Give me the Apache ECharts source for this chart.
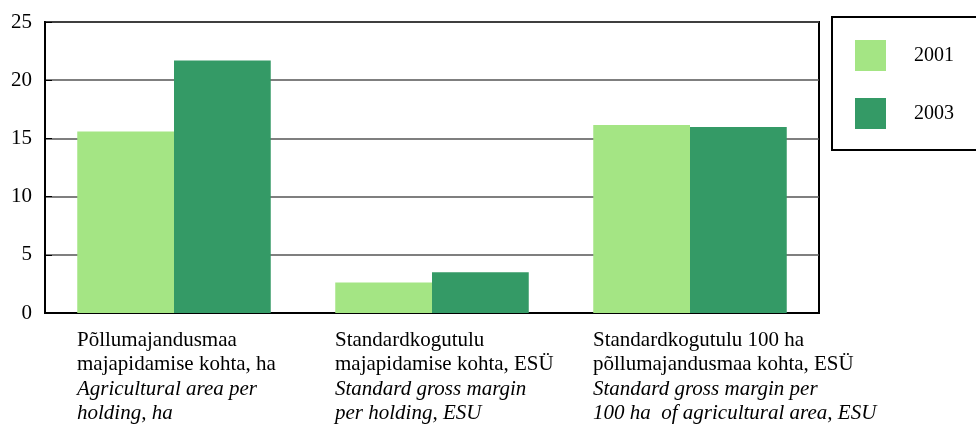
<!DOCTYPE html>
<html>
<head>
<meta charset="utf-8">
<script src="https://cdn.jsdelivr.net/npm/echarts@6/dist/echarts.min.js"></script>
<style>
html, body { margin: 0; padding: 0; background: #fff; }
#chart { width: 976px; height: 426px; }
</style>
</head>
<body>
<div id="chart"></div>
<script>
// categories: estonian line(s) + english line(s)
const categoriesEt = [
    ['Põllumajandusmaa', 'majapidamise kohta, ha'],
    ['Standardkogutulu', 'majapidamise kohta, ESÜ'],
    ['Standardkogutulu 100 ha', 'põllumajandusmaa kohta, ESÜ']
];
const categoriesEn = [
    ['Agricultural area per', 'holding, ha'],
    ['Standard gross margin', 'per holding, ESU'],
    ['Standard gross margin per', '100 ha  of agricultural area, ESU']
];
const years = ['2001', '2003'];
const values2001 = [15.6, 2.63, 16.15];
const values2003 = [21.7, 3.5, 15.98];
const yTicks = [0, 5, 10, 15, 20, 25];

const colors = ['#a4e584', '#349a66'];
const font = '"Liberation Serif", "DejaVu Serif", serif';

const categories = categoriesEt.map((et, i) => et.join('\n') + '\n' + categoriesEn[i].join('\n'));

const myChart = echarts.init(document.getElementById('chart'));
const option = {
    animation: false,
    textStyle: { fontFamily: font, color: '#000' },
    grid: {
        left: 45,
        right: 157,
        top: 22,
        bottom: 113,
        show: true,
        borderColor: '#000',
        borderWidth: 2
    },
    legend: {
        orient: 'vertical',
        left: 832,
        top: 17,
        padding: [23, 80, 21, 23],
        itemGap: 27,
        itemWidth: 31,
        itemHeight: 31,
        icon: 'rect',
        borderColor: '#000',
        borderWidth: 2,
        textStyle: { fontFamily: font, fontSize: 20, color: '#000', padding: [0, 0, 0, 23] },
        data: years
    },
    xAxis: {
        type: 'category',
        data: categories,
        axisLine: { lineStyle: { color: '#000', width: 2 } },
        axisTick: { inside: true, length: 7, lineStyle: { color: '#000', width: 1 } },
        axisLabel: {
            interval: 0,
            margin: 15,
            width: 194,
            overflow: 'none',
            align: 'center',
            lineHeight: 24.5,
            formatter: function (value, idx) {
                const et = categoriesEt[idx].map(s => '{a|' + s + '}');
                const en = categoriesEn[idx].map(s => '{b|' + s + '}');
                return et.concat(en).join('\n');
            },
            rich: {
                a: { fontFamily: font, fontSize: 21, lineHeight: 24.5, align: 'left', color: '#000' },
                b: { fontFamily: font, fontSize: 21, lineHeight: 24.5, align: 'left', fontStyle: 'italic', color: '#000' }
            }
        }
    },
    yAxis: {
        type: 'value',
        min: yTicks[0],
        max: yTicks[yTicks.length - 1],
        interval: 5,
        axisLine: { show: true, lineStyle: { color: '#000', width: 2 } },
        axisTick: { show: true, inside: true, length: 7, lineStyle: { color: '#000' } },
        axisLabel: { margin: 13, fontSize: 21, fontFamily: font, color: '#000' },
        splitLine: { lineStyle: { color: '#555', width: 1.5 } }
    },
    series: [
        {
            name: years[0],
            type: 'bar',
            data: values2001,
            barGap: '0%',
            barCategoryGap: '25%',
            itemStyle: { color: colors[0] }
        },
        {
            name: years[1],
            type: 'bar',
            data: values2003,
            barGap: '0%',
            barCategoryGap: '25%',
            itemStyle: { color: colors[1] }
        }
    ]
};
myChart.setOption(option);
</script>
</body>
</html>
